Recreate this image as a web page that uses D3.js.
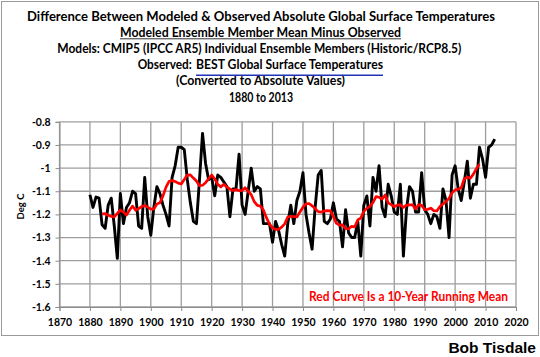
<!DOCTYPE html>
<html><head><meta charset="utf-8">
<script src="https://cdn.jsdelivr.net/npm/d3@7/dist/d3.min.js"></script>
<style>html,body{margin:0;padding:0;background:#fff;}svg{display:block;}</style>
</head><body>
<svg id="c" width="540" height="357"></svg>
<script>
const startYear = 1880;
const diffValues = [
 -1.115,-1.17,-1.125,-1.13,-1.245,-1.26,-1.16,-1.13,-1.25,-1.39,
 -1.11,-1.24,-1.17,-1.15,-1.10,-1.11,-1.25,-1.26,-1.04,-1.21,
 -1.29,-1.17,-1.08,-1.11,-1.16,-1.20,-1.25,-1.04,-0.99,-0.91,
 -0.91,-0.92,-1.05,-1.15,-1.23,-1.24,-1.05,-0.85,-0.98,-1.05,
 -1.04,-1.12,-1.03,-1.04,-1.06,-1.08,-1.21,-1.09,-1.09,-0.94,
 -1.16,-1.20,-1.10,-1.00,-1.10,-1.08,-1.09,-1.24,-1.24,-1.24,
 -1.32,-1.23,-1.27,-1.33,-1.38,-1.24,-1.16,-1.24,-1.14,-1.10,
 -1.02,-1.20,-1.28,-1.35,-1.17,-1.03,-1.01,-1.23,-1.24,-1.22,
 -1.15,-1.22,-1.23,-1.34,-1.18,-1.28,-1.30,-1.30,-1.23,-1.38,
 -1.16,-1.12,-1.25,-1.04,-1.10,-0.99,-1.17,-1.21,-1.07,-1.12,
 -1.19,-1.20,-1.07,-1.38,-1.18,-1.08,-1.10,-1.19,-1.19,-1.02,
 -1.18,-1.20,-1.24,-1.20,-1.21,-1.26,-1.09,-1.14,-1.30,-1.03,
 -0.99,-1.09,-1.14,-1.06,-0.97,-1.13,-1.07,-1.07,-0.91,-0.96,
 -1.04,-0.91,-0.90,-0.875
];
const runWindowBefore = 4, runWindowAfter = 5; // 10-year running mean
const yTicks = [-0.8,-0.9,-1.0,-1.1,-1.2,-1.3,-1.4,-1.5,-1.6];
const yTickLabels = ["-0.8","-0.9","-1","-1.1","-1.2","-1.3","-1.4","-1.5","-1.6"];
const xTicks = [1870,1880,1890,1900,1910,1920,1930,1940,1950,1960,1970,1980,1990,2000,2010,2020];

const annual = diffValues.map((v,i)=>({year:startYear+i, value:v}));
const running = [];
for (let i = runWindowBefore; i + runWindowAfter < annual.length; i++) {
  const w = annual.slice(i-runWindowBefore, i+runWindowAfter+1);
  running.push({year: annual[i].year, value: d3.mean(w, d=>d.value)});
}

const svg = d3.select("#c");
const FONT = "Lato, 'Open Sans', sans-serif";
svg.append("rect").attr("x",1.5).attr("y",1.5).attr("width",537).attr("height",334)
  .attr("fill","#fff").attr("stroke","#9a9a9a").attr("stroke-width",1);

const x = d3.scaleLinear().domain([1870,2020]).range([59.5,516]);
const y = d3.scaleLinear().domain([-1.6,-0.8]).range([307,121.8]);

// grid
const g = svg.append("g");
g.selectAll(".hg").data(yTicks).enter().append("line")
  .attr("x1",x(1870)).attr("x2",x(2020)).attr("y1",d=>y(d)).attr("y2",d=>y(d))
  .attr("stroke","#9e9e9e").attr("stroke-width",1.3);
g.selectAll(".vg").data(xTicks).enter().append("line")
  .attr("x1",d=>x(d)).attr("x2",d=>x(d)).attr("y1",y(-0.8)).attr("y2",y(-1.6))
  .attr("stroke","#9e9e9e").attr("stroke-width",1.3);

// axes
const yAxis = d3.axisLeft(y).tickValues(yTicks).tickFormat((d,i)=>yTickLabels[i]).tickSize(4).tickPadding(5);
const ya = svg.append("g").attr("transform",`translate(${x(1870)},0)`).call(yAxis);
ya.select(".domain").attr("stroke","#8c8c8c");
ya.selectAll(".tick line").attr("stroke","#8c8c8c");
ya.selectAll("text").attr("font-family",FONT).attr("font-weight","bold").attr("font-size","10.5px").attr("fill","#000");

const xAxis = d3.axisBottom(x).tickValues(xTicks).tickFormat(d3.format("d")).tickSize(4).tickPadding(8);
const xa = svg.append("g").attr("transform",`translate(0,${y(-1.6)})`).call(xAxis);
xa.select(".domain").attr("stroke","#8c8c8c");
xa.selectAll(".tick line").attr("stroke","#8c8c8c");
xa.selectAll("text").attr("font-family",FONT).attr("font-weight","bold").attr("font-size","10.5px").attr("fill","#000");

// lines
const line = d3.line().x(d=>x(d.year)).y(d=>y(d.value));
svg.append("path").datum(annual).attr("d",line).attr("fill","none")
  .attr("stroke","#000").attr("stroke-width",2.9).attr("stroke-linejoin","round");
svg.append("path").datum(running).attr("d",line).attr("fill","none")
  .attr("stroke","#ff0000").attr("stroke-width",2.7).attr("stroke-linejoin","round");

// y label
svg.append("text").attr("transform","translate(24,206.5) rotate(-90)")
  .attr("text-anchor","middle").attr("font-family",FONT).attr("font-weight","bold")
  .attr("font-size","9.5px").text("Deg C");

// titles
const titles = [
  {t:"Difference Between Modeled & Observed Absolute Global Surface Temperatures", x:27, w:468, y:21},
  {t:"Modeled Ensemble Member Mean Minus Observed", x:120, w:281, y:36.8},
  {t:"Models: CMIP5 (IPCC AR5) Individual Ensemble Members (Historic/RCP8.5)", x:57.3, w:404, y:52.8},
  {t:"Observed:", x:137.7, w:54, y:69},
  {t:"BEST Global Surface Temperatures", x:196, w:187, y:69},
  {t:"(Converted to Absolute Values)", x:176, w:169, y:85.3},
  {t:"1880 to 2013", x:229, w:64, y:101.6}
];
svg.selectAll(".ttl").data(titles).enter().append("text")
  .attr("x",d=>d.x).attr("y",d=>d.y).attr("textLength",d=>d.w).attr("lengthAdjust","spacingAndGlyphs")
  .attr("font-family",FONT).attr("font-weight","bold").attr("font-size","13px").attr("fill","#000")
  .text(d=>d.t);
svg.append("line").attr("x1",120).attr("x2",401).attr("y1",38.8).attr("y2",38.8).attr("stroke","#333").attr("stroke-width",1);
svg.append("line").attr("x1",196).attr("x2",383).attr("y1",75.2).attr("y2",75.2).attr("stroke","#2233bb").attr("stroke-width",1.6);

// legend note
svg.append("text").attr("x",309).attr("y",301).attr("textLength",199).attr("lengthAdjust","spacingAndGlyphs")
  .attr("font-family",FONT).attr("font-weight","bold").attr("font-size","13px").attr("fill","#ff0000")
  .text("Red Curve Is a 10-Year Running Mean");

svg.append("text").attr("x",536).attr("y",353).attr("text-anchor","end")
  .attr("font-family","'Liberation Sans', Arial, sans-serif").attr("font-weight","bold")
  .attr("font-size","15.5px").attr("fill","#000").text("Bob Tisdale");
</script>
</body></html>
